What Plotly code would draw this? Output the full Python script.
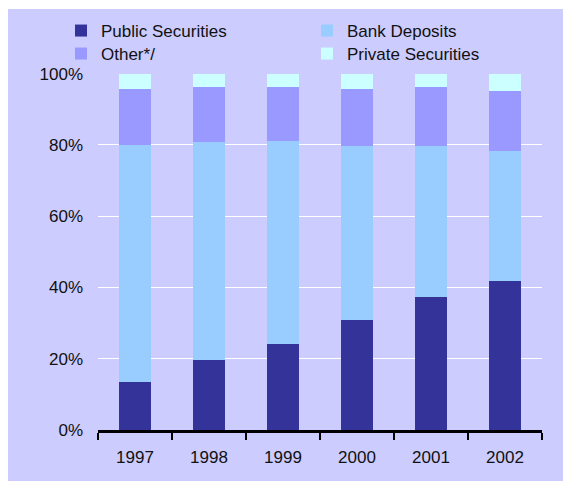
import plotly.graph_objects as go

years = ["1997", "1998", "1999", "2000", "2001", "2002"]
public_sec = [13.4, 19.7, 24.1, 30.8, 37.3, 41.7]
bank_dep = [66.7, 61.0, 57.1, 48.8, 42.3, 36.7]
other = [15.7, 15.7, 15.2, 16.2, 16.8, 16.8]
private_sec = [4.2, 3.6, 3.6, 4.2, 3.6, 4.8]
y_ticks = [0, 20, 40, 60, 80, 100]
y_labels = ["0%", "20%", "40%", "60%", "80%", "100%"]

BG = "#CCCCFF"
FONT = "Liberation Sans, Arial, sans-serif"

fig = go.Figure()
fig.add_trace(go.Bar(x=years, y=public_sec, name="Public Securities",
                     marker=dict(color="#333399", line=dict(width=0)), legend="legend"))
fig.add_trace(go.Bar(x=years, y=bank_dep, name="Bank Deposits",
                     marker=dict(color="#99CCFF", line=dict(width=0)), legend="legend2"))
fig.add_trace(go.Bar(x=years, y=other, name="Other*/",
                     marker=dict(color="#9999FF", line=dict(width=0)), legend="legend3"))
fig.add_trace(go.Bar(x=years, y=private_sec, name="Private Securities",
                     marker=dict(color="#CCFFFF", line=dict(width=0)), legend="legend4"))

W, H = 563, 481
L, R, T, B = 98, 21, 73, 51
pw, ph = W - L - R, H - T - B

def px_x(p):
    return (p - L) / pw

def px_y(p):
    return (H - B - p) / ph

fig.add_shape(type="rect", xref="paper", yref="paper", layer="below",
              x0=px_x(8), x1=px_x(W + 5), y0=px_y(H + 5), y1=px_y(9),
              fillcolor=BG, line=dict(width=0))

legend_common = dict(orientation="v", bgcolor="rgba(0,0,0,0)", borderwidth=0,
                     font=dict(family=FONT, size=17, color="#111111"),
                     itemclick=False, itemdoubleclick=False,
                     yanchor="middle", xanchor="left", itemwidth=30)

col1, col2 = 61, 307
row1, row2 = 31, 54

fig.update_layout(
    width=W, height=H,
    margin=dict(l=L, r=R, t=T, b=B, pad=0),
    paper_bgcolor="white",
    plot_bgcolor=BG,
    barmode="stack",
    bargap=0.58,
    showlegend=True,
    font=dict(family=FONT, size=17, color="#111111"),
    legend=dict(x=px_x(col1), y=px_y(row1), **legend_common),
    legend2=dict(x=px_x(col2), y=px_y(row1), **legend_common),
    legend3=dict(x=px_x(col1), y=px_y(row2), **legend_common),
    legend4=dict(x=px_x(col2), y=px_y(row2), **legend_common),
    xaxis=dict(type="category", showgrid=False, showline=True, linecolor="black",
               linewidth=3, ticks="outside", tickson="boundaries", ticklen=7,
               tickwidth=2, tickcolor="black", ticklabelstandoff=10,
               tickfont=dict(family=FONT, size=17, color="#111111")),
    yaxis=dict(range=[0, 100.2], tickvals=y_ticks, ticktext=y_labels,
               showgrid=True, gridcolor="white", gridwidth=1, zeroline=False,
               showline=False, ticks="", ticklabelstandoff=14,
               tickfont=dict(family=FONT, size=17, color="#111111")),
)

fig.write_html("out.html")
